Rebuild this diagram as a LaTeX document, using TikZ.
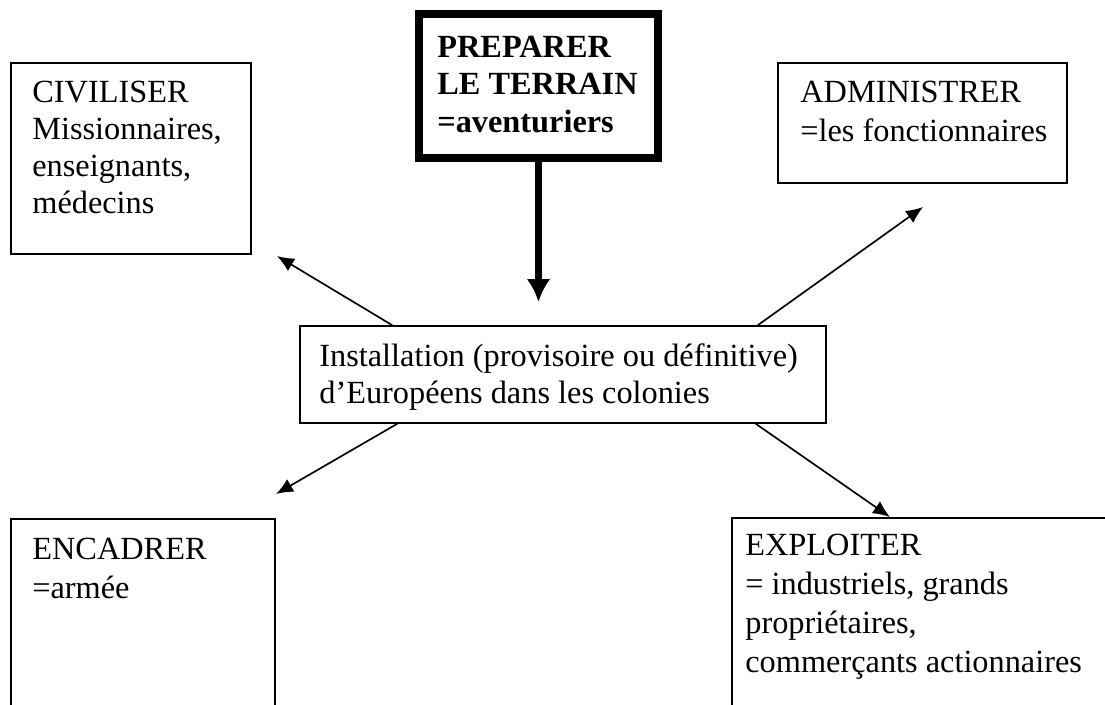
\documentclass[tikz,border=0pt]{standalone}
\usepackage{fontspec}
\setmainfont{Liberation Serif}
\usetikzlibrary{arrows.meta,calc}
\newcommand\mystrut{\rule{0pt}{14.7pt}}
\begin{document}
\begin{tikzpicture}[x=0.02cm,y=-0.02cm,
  box/.style={draw,line width=0.9pt,inner sep=0pt,rectangle},
  thickbox/.style={draw,line width=4.2pt,inner sep=0pt,rectangle},
  txt/.style={anchor=north west,inner sep=0pt,align=left,font=\fontsize{18.4pt}{21pt}\selectfont},
  txtwide/.style={anchor=north west,inner sep=0pt,align=left,font=\fontsize{18.4pt}{22.2pt}\selectfont},
  conn/.style={line width=0.95pt,-{Latex[length=0.34cm,width=0.29cm]}},
  bigconn/.style={line width=4.2pt,-{Latex[length=0.46cm,width=0.48cm]}}
]
\useasboundingbox (0,0) rectangle (1105,704);
\fill[white] (0,0) rectangle (1105,704);
\clip (0,0) rectangle (1105,704);

% boxes
\node[box,minimum width=4.8cm,minimum height=3.82cm] (civ) at (131,158.5) {};
\node[thickbox,minimum width=4.78cm,minimum height=2.88cm] (prep) at (538.5,86) {};
\node[box,minimum width=5.78cm,minimum height=2.4cm] (adm) at (922.5,123) {};
\node[box,minimum width=10.52cm,minimum height=1.94cm] (ctr) at (563,374.5) {};
\node[box,minimum width=5.28cm,minimum height=4.04cm] (enc) at (143,620) {};
\node[box,minimum width=7.76cm,minimum height=4.04cm] (exp) at (926,619) {};

% texts
\node[txt] (civt) at (32,76.2) {\mystrut CIVILISER\\Missionnaires,\\enseignants,\\médecins};
\node[txt,font=\fontsize{18.4pt}{21.3pt}\selectfont\bfseries] (prept) at (437,31.2) {\mystrut PREPARER\\LE TERRAIN\\=aventuriers};
\node[txtwide] (admt) at (800,76.2) {\mystrut ADMINISTRER\\=les fonctionnaires};
\node[txt] (ctrt) at (319,340.2) {\mystrut Installation (provisoire ou définitive)\\d’Européens dans les colonies};
\node[txtwide] (enct) at (32,533.2) {\mystrut ENCADRER\\=armée};
\node[txtwide] (expt) at (745,529.2) {\mystrut EXPLOITER\\= industriels, grands\\propriétaires,\\commerçants actionnaires};

% free ends
\coordinate (ptip) at (538.5,302);
\coordinate (civtip) at (277,256);
\coordinate (admtip) at (923,207);
\coordinate (enctip) at (276,494);
\coordinate (exptip) at (890,517);

% connectors
\draw[bigconn] (prep.south) -- (ptip);
\draw[conn] ([xshift=1.86cm]ctr.north west) -- (civtip);
\draw[conn] ([xshift=-1.38cm]ctr.north east) -- (admtip);
\draw[conn] ([xshift=1.96cm]ctr.south west) -- (enctip);
\draw[conn] ([xshift=-1.42cm]ctr.south east) -- (exptip);
\end{tikzpicture}
\end{document}
